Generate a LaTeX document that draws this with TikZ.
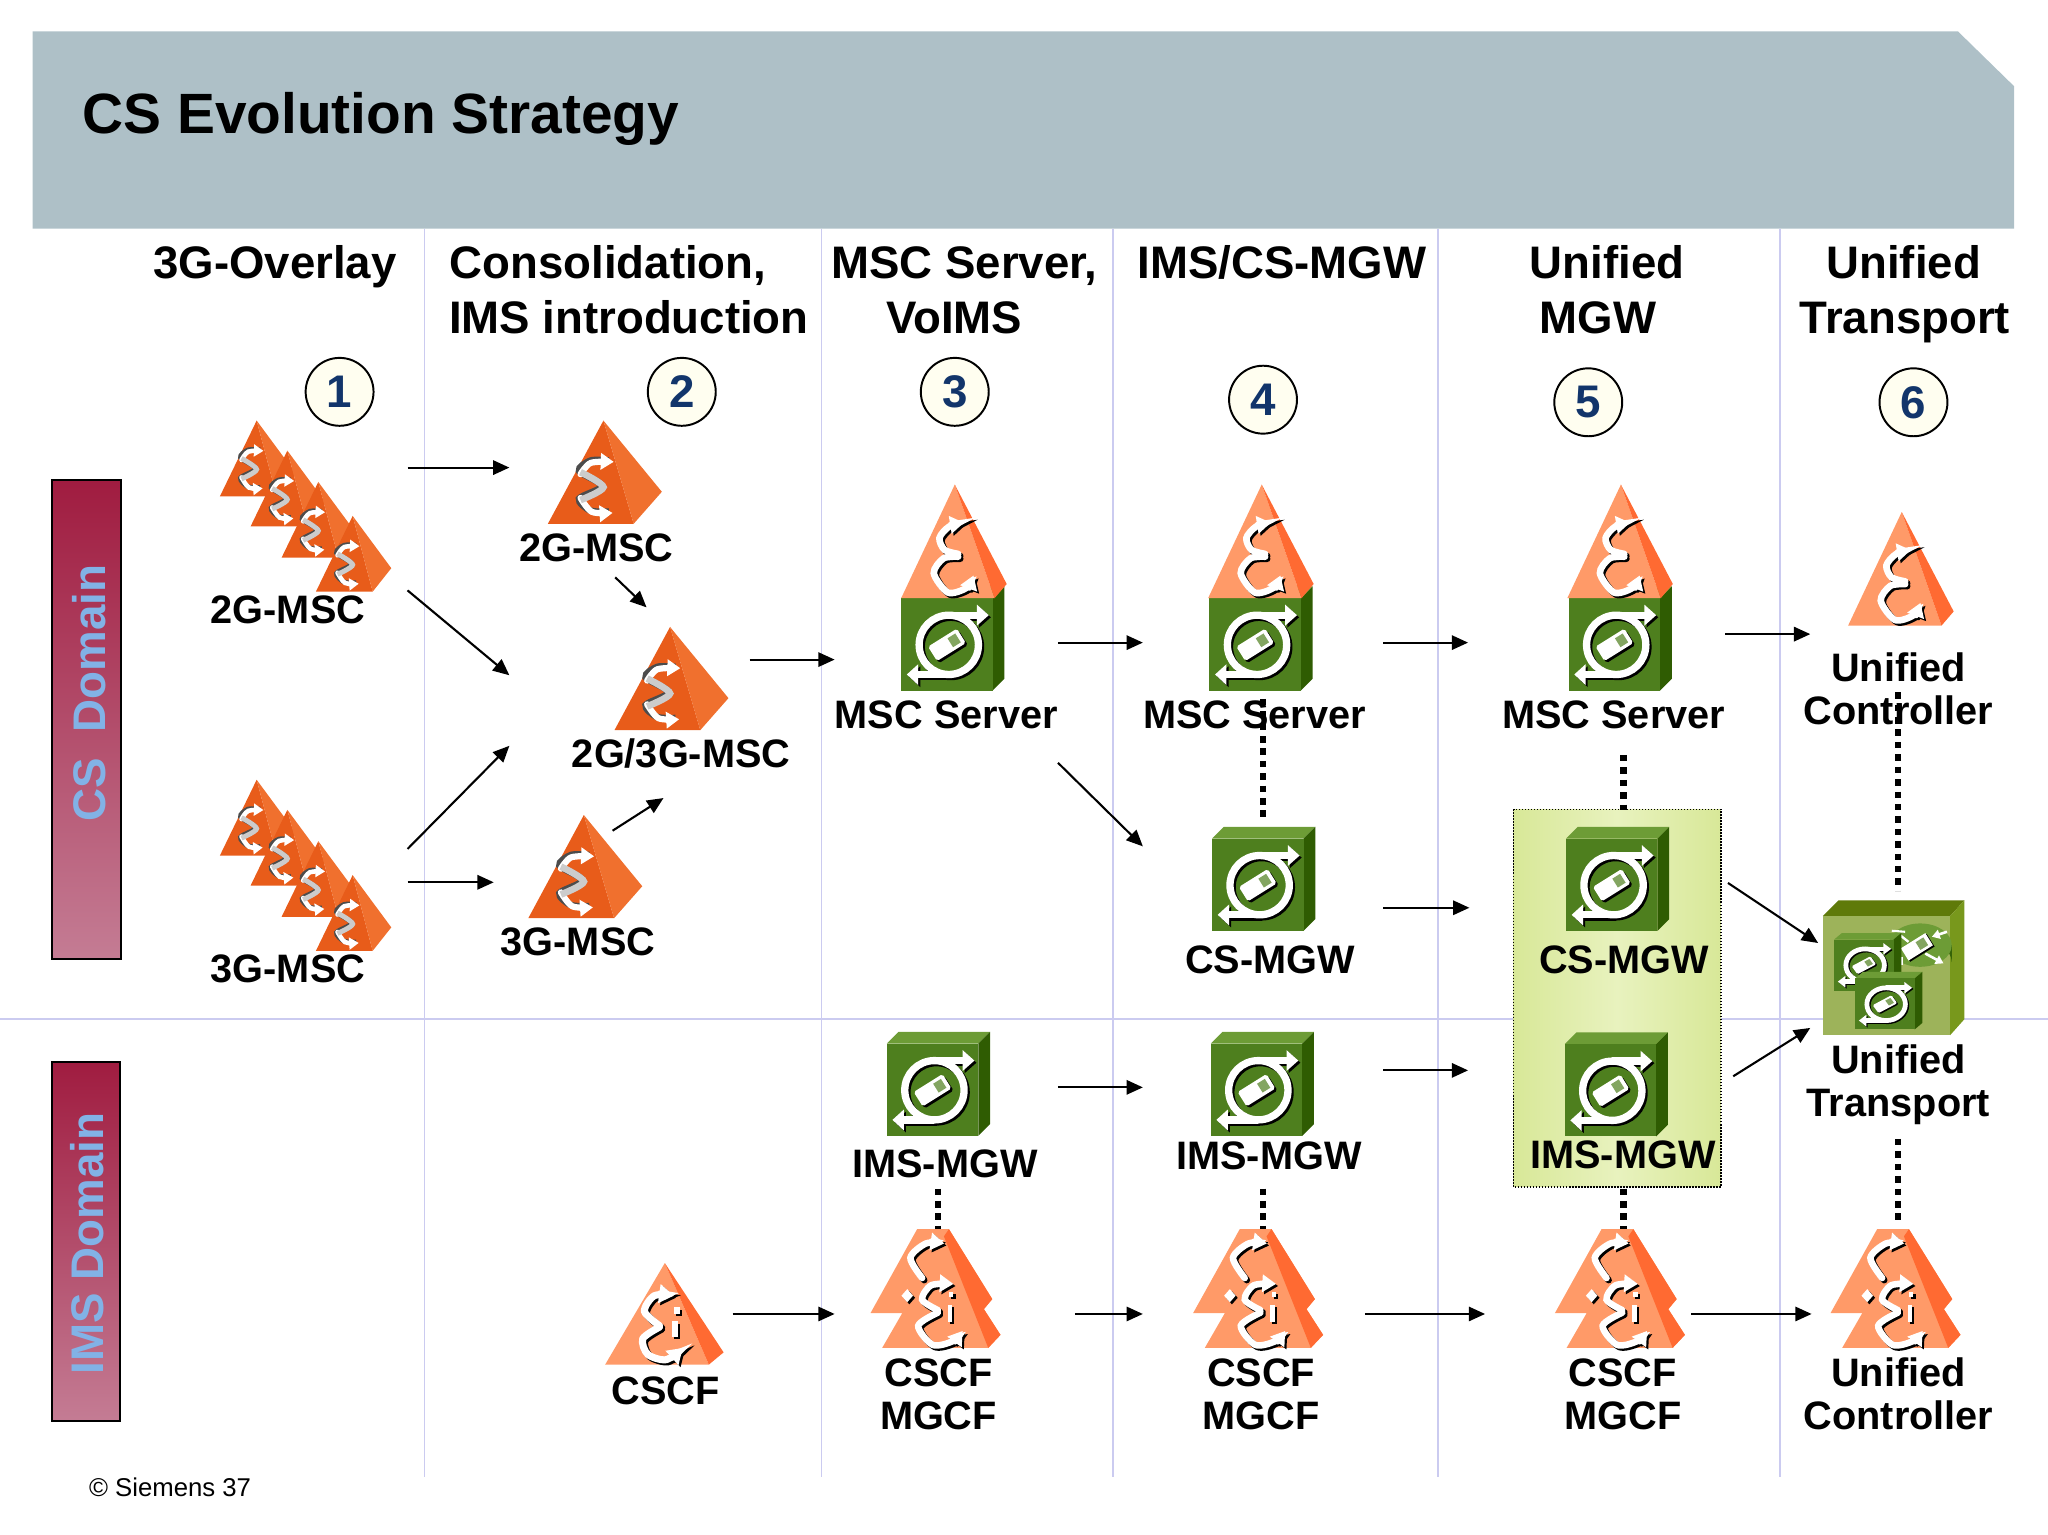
\documentclass[tikz,border=0pt]{standalone}
\usepackage{fontspec}
\setmainfont{Liberation Sans}
\usetikzlibrary{arrows.meta}
\definecolor{band}{HTML}{AEC0C7}
\definecolor{gridline}{HTML}{CBCBF0}
\definecolor{navy}{HTML}{12356B}
\definecolor{domaintext}{HTML}{82B2E6}
\definecolor{domaindark}{HTML}{A01C40}
\definecolor{domainlight}{HTML}{C47C94}
\definecolor{mscdark}{HTML}{E85C1A}
\definecolor{mscface}{HTML}{F0702E}
\definecolor{srvlight}{HTML}{FF9A68}
\definecolor{srvface}{HTML}{FF6A32}
\definecolor{cubefront}{HTML}{4E7F1E}
\definecolor{cubeside}{HTML}{2F5C02}
\definecolor{cubetop}{HTML}{6D9C36}
\definecolor{boxedge}{HTML}{D8E898}
\definecolor{boxmid}{HTML}{E8F2BE}
\definecolor{utfront}{HTML}{9DB35A}
\definecolor{uttop}{HTML}{5F7A0A}
\definecolor{utside}{HTML}{78981C}
\tikzstyle{bandtitle}=[anchor=base west, inner sep=0pt, font=\fontsize{43.5}{46}\selectfont\bfseries]
\tikzstyle{colhead}=[anchor=base, inner sep=0pt, xshift=.5pt, font=\fontsize{34.9}{38}\selectfont\bfseries]
\tikzstyle{lbl}=[anchor=base, inner sep=0pt, xshift=.5pt, font=\fontsize{30.4}{33}\selectfont\bfseries]
\tikzstyle{stepcircle}=[circle, draw=black, line width=1.5pt, fill=yellow!6, minimum size=52pt, inner sep=0pt, text=navy, font=\fontsize{35}{36}\selectfont\bfseries]
\tikzstyle{domainbar}=[draw=black, line width=1.5pt, shading angle=8, top color=domaindark, bottom color=domainlight]
\tikzstyle{domainlabel}=[rotate=90, inner sep=0pt, text=domaintext, font=\fontsize{35}{38}\selectfont\bfseries]
\tikzstyle{gridrule}=[gridline, line width=1.3pt]
\tikzstyle{cable}=[line width=1.6pt, -{Triangle[length=12.5pt, width=11pt]}]
\tikzstyle{dotlink}=[line width=5pt, dash pattern=on 5pt off 4.5pt]
\tikzstyle{wiggle}=[line cap=round, -{Triangle[length=0pt 2.1 0, width=0pt 2.6 0]}]
\tikzset{
  pics/dkpyr/.style={code={
    \begin{scope}[scale=#1]
      \fill[mscdark] (0,0) -- (-.485,1) -- (.264,1) -- cycle;
      \fill[mscface] (0,0) -- (.264,1) -- (.51,.69) -- cycle;
      \draw[black!70, line width=#1*.065pt, shift={(-.012,-.012)}] plot[smooth] coordinates {(.06,.40) (-.10,.40) (-.2,.5) (-.0,.645) (-.2,.77) (-.1,.885) (.06,.895)};
      \draw[wiggle, white, line width=#1*.06pt] plot[smooth] coordinates {(-.2,.52) (-.11,.41) (.09,.40)};
      \draw[wiggle, white, line width=#1*.06pt] plot[smooth] coordinates {(-.2,.75) (-.1,.885) (.08,.895)};
      \draw[black!20, line width=#1*.065pt] plot[smooth] coordinates {(-.2,.5) (-.0,.645) (-.2,.77)};
    \end{scope}
  }},
  pics/ltpyr/.style={code={
    \begin{scope}[scale=#1]
      \fill[srvlight] (0,0) -- (-.472,1) -- (.35,1) -- cycle;
      \fill[srvface] (0,0) -- (.35,1) -- (.457,.875) -- cycle;
      \foreach \col/\dx in {black/.018, white/0} {
        \draw[wiggle, \col, line width=#1*.058pt, shift={(\dx,\dx)}] plot[smooth] coordinates {(.03,.61) (-.09,.575) (-.135,.47) (-.05,.37) (.08,.335)};
        \draw[wiggle, \col, line width=#1*.058pt, shift={(\dx,\dx)}] plot[smooth] coordinates {(.03,.635) (-.1,.65) (-.185,.78) (-.06,.95) (.1,.91) (.165,.80)};
      }
    \end{scope}
  }},
  pics/mgwcube/.style={code={
    \begin{scope}[scale=#1]
      \fill[cubetop] (0,0) -- (9,-9) -- (79,-9) -- (70,0) -- cycle;
      \fill[cubeside] (70,0) -- (79,-9) -- (79,61.7) -- (70,70.7) -- cycle;
      \fill[cubefront] (0,0) rectangle (70,70.7);
      \foreach \col/\dx in {black/1.6, white/0} {
        \begin{scope}[shift={(\dx,\dx)}]
          \draw[\col, line width=#1*5.6pt] (36.4,35.7) circle (22.7);
          \draw[\col, line width=#1*5.6pt] (36.4,13) -- (60,13);
          \fill[\col] (58,5) -- (67,13) -- (58,21) -- cycle;
          \draw[\col, line width=#1*5.6pt] (36.4,58.4) -- (12,58.4);
          \fill[\col] (13,50.5) -- (4.3,58.4) -- (13,66.5) -- cycle;
          \begin{scope}[shift={(35,35.7)}, rotate=32]
            \fill[\col, rounded corners=#1*1.5pt] (-13,-6.5) rectangle (13,6.5);
          \end{scope}
        \end{scope}
      }
      \begin{scope}[shift={(35,35.7)}, rotate=32]
        \fill[cubefront!70!white] (3,-4) rectangle (10,4);
      \end{scope}
    \end{scope}
  }},
  pics/icscf/.style={code={
    \fill[srvlight] (0,0) -- (-45.7,77.8) -- (33.7,77.8) -- cycle;
    \fill[srvface] (0,0) -- (33.7,77.8) -- (45,68.4) -- cycle;
    \foreach \col/\dx in {black/1.6, white/0} {
      \begin{scope}[shift={(\dx,\dx)}]
        \draw[wiggle, \col, line width=5.4pt] plot[smooth] coordinates {(-4,48) (-15.6,37) (-8,25) (7,25)};
        \draw[wiggle, \col, line width=5.4pt] plot[smooth] coordinates {(-4,49) (-16.9,58) (-13,70) (1,74) (13.8,65)};
        \fill[\col] (6.7,34) rectangle (11.7,39);
        \fill[\col] (5.5,44.7) rectangle (10,56.7);
      \end{scope}
    }
  }},
  pics/dblcscf/.style={code={
    \fill[srvlight] (-12.8,0) -- (11.5,0) -- (44.7,53.6) -- (38.3,61.3) -- (51,81) -- (41.6,91) -- (-39.6,91) -- (-24.2,64.3) -- (-48.5,64.3) -- cycle;
    \fill[srvface] (11.5,0) -- (44.7,53.6) -- (38.3,61.3) -- (51,81) -- (41.6,91) -- (7.7,5.6) -- cycle;
    \foreach \col/\dx in {black/1.6, white/0} {
      \begin{scope}[shift={(\dx,\dx)}]
        \draw[wiggle, \col, line width=5pt] plot[smooth] coordinates {(-9,37.5) (-18,22) (-6,11) (8,11)};
        \draw[wiggle, \col, line width=5pt] plot[smooth] coordinates {(3,62) (-9,54) (-2,43) (15,42)};
        \draw[wiggle, \col, line width=5pt] plot[smooth] coordinates {(3,64) (-12,74) (-1,88.6) (14,86) (22,78)};
        \fill[\col] (11.5,48) rectangle (15,52);
        \fill[\col] (10.5,58) rectangle (14,71);
        \fill[\col] (-20.4,46) -- (-16,51) -- (-20.4,56) -- (-24.8,51) -- cycle;
      \end{scope}
    }
  }},
  pics/utransport/.style={code={
    \fill[uttop] (0,0) -- (12,-12) -- (108.3,-12) -- (97.4,0) -- cycle;
    \fill[utside] (97.4,0) -- (108.3,-12) -- (108.3,79) -- (97.4,91.2) -- cycle;
    \fill[utfront] (0,0) rectangle (97.4,91.2);
    % router
    \fill[cubeside!80!cubefront] (50.3,22.2) -- (50.3,35.2) arc[start angle=180, end angle=360, x radius=24.2, y radius=16.6] -- (98.7,22.2) -- cycle;
    \fill[cubetop] (74.5,22.2) ellipse[x radius=24.2, y radius=16.6];
    \draw[white, line width=2pt, -{Triangle[length=6pt, width=7pt]}] (78.4,28.6) -- (92.4,36.2);
    \draw[white, line width=2pt, -{Triangle[length=6pt, width=7pt]}] (95,12) -- (83.5,15.8);
    \draw[white, line width=1.6pt] (52.8,11.2) -- (63,12);
    \draw[white, line width=1.8pt] (59,14.5) -- (65.6,19.7);
    \draw[white, line width=1.8pt] (60.5,31) -- (60.5,37.5);
    \begin{scope}[shift={(72,23.5)}, rotate=32]
      \fill[black] (-10.4,-4.4) rectangle (11.6,7);
      \fill[white] (-11,-5.5) rectangle (11,5.5);
      \fill[cubefront!70!white] (1,-3.5) rectangle (8,3.5);
    \end{scope}
    \pic[yscale=.85] at (8.7,17.9) {mgwcube=.65};
    \pic[yscale=.85] at (24.8,47.7) {mgwcube=.65};
  }}
}
\begin{document}
\begin{tikzpicture}[x=1pt, y=-1pt]
  \useasboundingbox (0,0) rectangle (1568,1174.5);

  % Bandeau
  \fill[band] (25,24) -- (1499,24) -- (1542,66) -- (1542,175) -- (25,175) -- cycle;
  \node[bandtitle] (maintitle) at (63,102) {CS Evolution Strategy};

  % Grille
  \foreach \x in {325, 629, 852, 1101, 1363}
    \draw[gridrule] (\x,175) -- (\x,1131);
  \draw[gridrule] (0,780) -- (1568,780);

  % Domaines
  \shade[domainbar] (40,367.5) rectangle (93,734.5);
  \shade[domainbar] (39.5,813) rectangle (92,1088);
  \node[domainlabel] (csdomain) at (68,530.5) {CS\ \ Domain};
  \node[domainlabel] (imsdomain) at (67,952) {IMS Domain};

  % Titres de colonnes
  \foreach \n/\x/\y/\t in {hovl/210/213/3G-Overlay, hcons/465/213/{Consolidation,}, himsi/481/255/IMS introduction,
      hsrv/738/213/{MSC Server,}, hvolms/730/255/VoIMS, hcsmgw/981/213/IMS\slash CS-MGW, huni/1230/213/Unified,
      hmgw/1223/255/MGW, hunib/1457/213/Unified, htrans/1458/255/Transport}
    \node[colhead] (\n) at (\x,\y) {\t};

  % Etapes
  \foreach \n/\x/\y in {1/260/300, 2/522/300, 3/731/300, 4/967/306, 5/1216/308, 6/1465/308}
    \node[stepcircle] (st\n) at (\x,\y) {\raisebox{-1.5pt}{\n}};

  % Zone verte
  \shade[draw=black, line width=1.3pt, densely dotted, left color=boxedge, right color=boxedge, middle color=boxmid]
    (1158.8,619.7) rectangle (1317.5,908.6);

  % Liens pointilles
  \foreach \n/\x/\ya/\yb in {a/967/535/630, b/1243/578/620, c/1453/530/682, d/1453/872/938, e/718/910/942, f/967/910/945, g/1243/910/942} {
    \coordinate (lt\n) at (\x,\ya);
    \coordinate (lb\n) at (\x,\yb);
    \draw[dotlink] (lt\n) -- (lb\n);
  }

  % MSC
  \foreach \x/\y in {196.5/322, 220/345, 243.7/369, 270/395, 196.5/597, 220/620, 243.7/644, 270/670}
    \pic at (\x,\y) {dkpyr=58};
  \pic[xscale=1.11] (msctwo) at (462,322) {dkpyr=79};
  \pic[xscale=1.11] (mscboth) at (513,480) {dkpyr=79};
  \pic[xscale=1.11] (mscthree) at (447,624) {dkpyr=79};

  % Serveurs
  \foreach \x/\c in {731/690, 966/926, 1241/1201} {
    \pic at (\c,458) {mgwcube=1};
    \pic at (\x,371) {ltpyr=87};
  }
  \pic (unictrl) at (1456,392) {ltpyr=87};

  % Passerelles
  \foreach \x/\y in {928/642, 1199/642, 679/799, 927/799, 1198/799.4}
    \pic at (\x,\y) {mgwcube=1};
  \pic (unitrans) at (1395.6,701.4) {utransport};

  % CSCF
  \pic (cscfone) at (509,967) {icscf};
  \foreach \x in {715, 962, 1239, 1450}
    \pic at (\x,941) {dblcscf};

  % Etiquettes
  \foreach \n/\x/\y/\t in {la/220/477/2G-MSC, lb/456/430/2G-MSC, lc/521/587.5/2G\slash 3G-MSC, ld/220/752/3G-MSC, le/442/731.5/3G-MSC,
      lf/724/558/MSC Server, lg/960/558/MSC Server, lh/1235/558/MSC Server, li/1453/521.5/Unified, lj/1453/554.5/Controller,
      lk/972/745/CS-MGW, ll/1243/745/CS-MGW, lm/723/901.5/IMS-MGW, ln/971/895.5/IMS-MGW, lo/1242/895/IMS-MGW,
      lp/1453/822/Unified, lq/1453/855/Transport, lr/509/1075/CSCF, ls/718/1061.5/CSCF, lt/718/1094.5/MGCF,
      lu/965/1061.5/CSCF, lv/965/1094.5/MGCF, lw/1242/1061.5/CSCF, lx/1242/1094.5/MGCF, ly/1453/1061.5/Unified, lz/1453/1094.5/Controller}
    \node[lbl] (\n) at (\x,\y) {\t};
  \node[anchor=base west, inner sep=0pt, font=\fontsize{19.7}{22}\selectfont] (copyr) at (68,1146) {© Siemens 37};

  % Fleches
  \foreach \n/\xa/\ya/\xb/\yb in {a/312/358/390/358, b/312/452/390/517, c/312/650/390/571, d/312/675.5/378/675.5, e/471/442/495/465,
      f/469/636/508/611, g/574/505/639/505, h/810/492/875/492, i/810/584/875/648, j/1059/492/1124/492, k/1321/485.5/1386/485.5,
      l/1059/695/1125/695, m/1323/676/1392/722, n/1327/824/1386/787, o/810/832.5/875/832.5, p/1059/819.5/1124/819.5,
      q/561/1006/639/1006, r/823/1006/875/1006, s/1045/1006/1137/1006, t/1295/1006/1387/1006} {
    \coordinate (as\n) at (\xa,\ya);
    \coordinate (ae\n) at (\xb,\yb);
    \draw[cable] (as\n) -- (ae\n);
  }
\end{tikzpicture}
\end{document}
